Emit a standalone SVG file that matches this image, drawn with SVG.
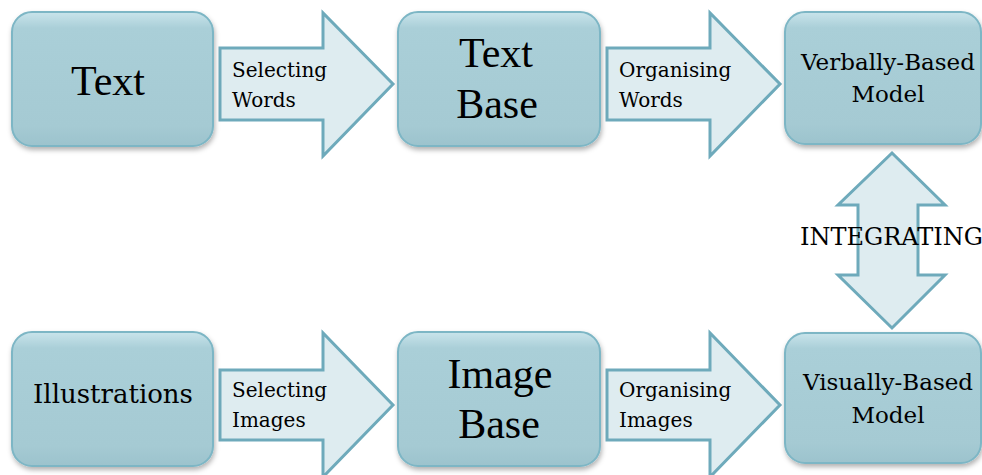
<svg xmlns="http://www.w3.org/2000/svg" width="982" height="475" viewBox="0 0 982 475">
<defs>
<linearGradient id="boxg" x1="0" y1="0" x2="0" y2="1">
<stop offset="0" stop-color="#c9e4eb"/>
<stop offset="0.12" stop-color="#aacfd8"/>
<stop offset="0.85" stop-color="#a5cad3"/>
<stop offset="1" stop-color="#9cc3cd"/>
</linearGradient>
<filter id="sh" x="-10%" y="-10%" width="125%" height="130%">
<feDropShadow dx="1" dy="3" stdDeviation="2.5" flood-color="#000" flood-opacity="0.3"/>
</filter>
<style>
.box{fill:url(#boxg);stroke:#7db6c5;stroke-width:2;filter:url(#sh)}
.arr{fill:#deecf0;stroke:#6eaabb;stroke-width:3;stroke-linejoin:miter}
text{font-family:"DejaVu Serif","Liberation Serif",serif;fill:#000}
.sm{font-size:20px}
.md{font-size:23px;text-anchor:middle}
.lg{font-family:"Liberation Serif",serif;font-size:42px;text-anchor:middle}
</style>
</defs>
<g id="connectors">
<path class="arr" d="M220,48 H323 V13 L393,84 L323,156 V120 H220 Z"/>
<path class="arr" d="M607,48 H710 V13 L780,84 L710,156 V120 H607 Z"/>
<path class="arr" d="M220,370 H323 V333 L393,405 L323,477 V440 H220 Z"/>
<path class="arr" d="M607,370 H710 V333 L780,405 L710,477 V440 H607 Z"/>
<path class="arr" d="M892,153 L945,205 H918 V275 H945 L892,328 L838,275 H858 V205 H838 Z"/>
<text class="sm" x="232" y="77">Selecting</text>
<text class="sm" x="232" y="107">Words</text>
<text class="sm" x="619" y="77">Organising</text>
<text class="sm" x="619" y="107">Words</text>
<text class="sm" x="232" y="397">Selecting</text>
<text class="sm" x="232" y="427">Images</text>
<text class="sm" x="619" y="397">Organising</text>
<text class="sm" x="619" y="427">Images</text>
<text style="font-size:24px" x="800" y="245">INTEGRATING</text>
</g>
<g id="node-text">
<rect class="box" x="12" y="12" width="201" height="134" rx="20"/>
<text class="lg" x="108" y="95">Text</text>
</g>
<g id="node-textbase">
<rect class="box" x="398" y="12" width="202" height="134" rx="20"/>
<text class="lg" x="496" y="67">Text</text>
<text class="lg" x="497" y="118">Base</text>
</g>
<g id="node-verbal">
<rect class="box" x="785" y="12" width="196" height="132" rx="20"/>
<text class="md" x="888" y="70">Verbally-Based</text>
<text class="md" x="888" y="102">Model</text>
</g>
<g id="node-illustrations">
<rect class="box" x="12" y="332" width="201" height="134" rx="20"/>
<text style="font-size:26px;text-anchor:middle" x="113" y="403">Illustrations</text>
</g>
<g id="node-imagebase">
<rect class="box" x="398" y="332" width="202" height="134" rx="20"/>
<text class="lg" x="500" y="388">Image</text>
<text class="lg" x="499" y="438">Base</text>
</g>
<g id="node-visual">
<rect class="box" x="785" y="333" width="196" height="130" rx="20"/>
<text class="md" x="888" y="390">Visually-Based</text>
<text class="md" x="888" y="423">Model</text>
</g>
</svg>
